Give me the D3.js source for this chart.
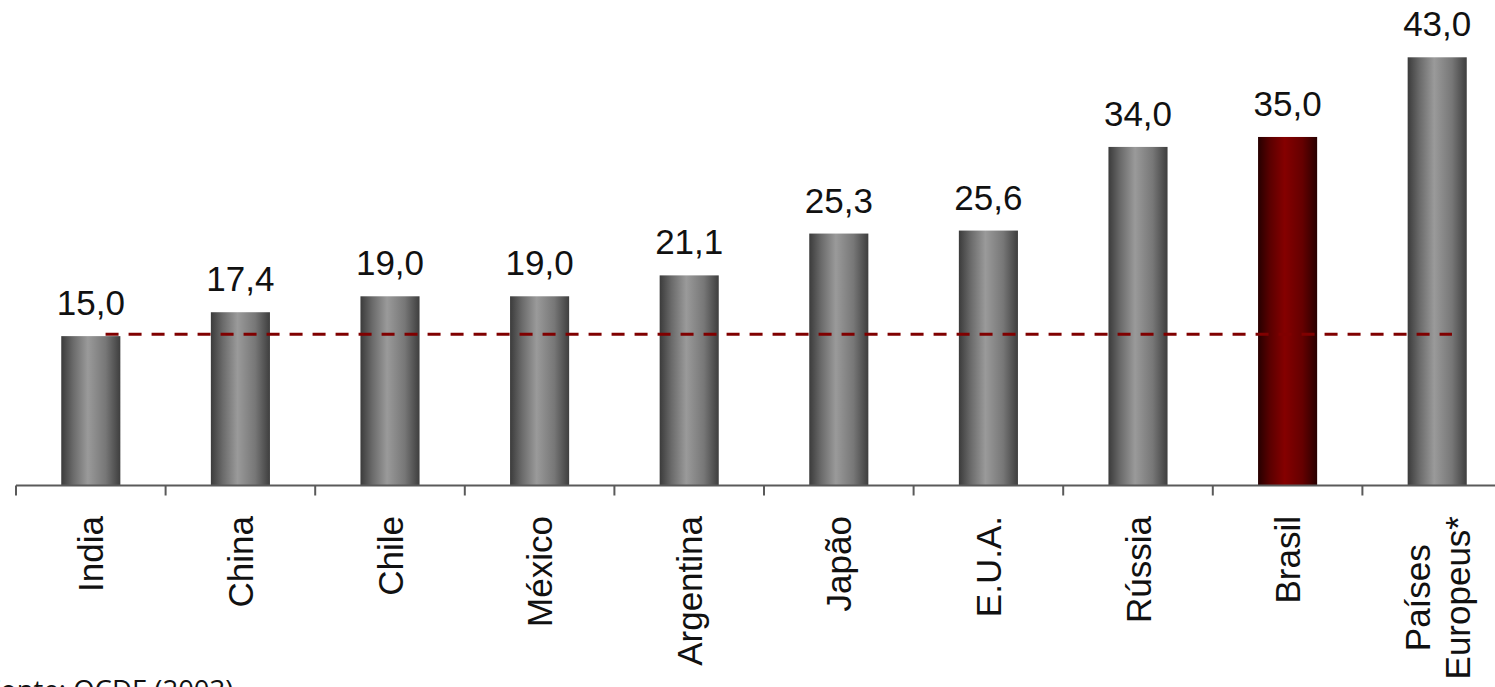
<!DOCTYPE html>
<html>
<head>
<meta charset="utf-8">
<script src="https://cdn.jsdelivr.net/npm/d3@7"></script>
<style>
  html, body { margin: 0; padding: 0; background: #fff; overflow: hidden; }
  svg { display: block; }
</style>
</head>
<body>
<svg id="chart" width="1495" height="687"></svg>
<script>
// ---- data ----
const categories = ["India", "China", "Chile", "México", "Argentina", "Japão", "E.U.A.", "Rússia", "Brasil", "Países\nEuropeus*"];
const values = [15.0, 17.4, 19.0, 19.0, 21.1, 25.3, 25.6, 34.0, 35.0, 43.0];
const valueLabels = ["15,0", "17,4", "19,0", "19,0", "21,1", "25,3", "25,6", "34,0", "35,0", "43,0"];
const highlight = ["Brasil"];
const referenceValue = 15.2;
const sourceNote = "Fonte: OCDE (2003)";

// ---- layout ----
const W = 1495, H = 687;
const axisY = 485.5;
const svg = d3.select("#chart");
const defs = svg.append("defs");

function grad(id, stops) {
  const g = defs.append("linearGradient").attr("id", id)
    .attr("x1", "0%").attr("x2", "100%").attr("y1", "0%").attr("y2", "0%");
  stops.forEach(s => g.append("stop").attr("offset", s[0]).attr("stop-color", s[1]));
}
grad("gGray", [["0%", "#3b3b3b"], ["20%", "#6a6a6a"], ["45%", "#9a9a9a"], ["75%", "#777777"], ["100%", "#3e3e3e"]]);
grad("gRed", [["0%", "#260000"], ["20%", "#5a0000"], ["45%", "#850000"], ["75%", "#650000"], ["100%", "#280000"]]);

const x = d3.scaleBand().domain(categories).range([16, 1512])
  .paddingInner(0.605).paddingOuter(0.3025);
const y = d3.scaleLinear().domain([0, 43]).range([axisY, 57.3]);

// bars
svg.append("g").selectAll("rect").data(categories).join("rect")
  .attr("x", d => x(d))
  .attr("width", x.bandwidth())
  .attr("y", (d, i) => y(values[i]))
  .attr("height", (d, i) => y(0) - y(values[i]))
  .attr("fill", d => highlight.includes(d) ? "url(#gRed)" : "url(#gGray)");

// value labels
svg.append("g").selectAll("text").data(categories).join("text")
  .attr("x", d => x(d) + x.bandwidth() / 2)
  .attr("y", (d, i) => y(values[i]) - 21)
  .attr("text-anchor", "middle")
  .attr("font-family", "'Liberation Sans', Arial, sans-serif")
  .attr("font-size", 35)
  .attr("fill", "#111")
  .text((d, i) => valueLabels[i]);

// reference dashed line
const first = categories[0], last = categories[categories.length - 1];
svg.append("line")
  .attr("x1", x(first) + x.bandwidth() * 0.75)
  .attr("x2", x(last) + x.bandwidth() * 0.75)
  .attr("y1", y(referenceValue)).attr("y2", y(referenceValue))
  .attr("stroke", "#800000").attr("stroke-width", 3)
  .attr("stroke-dasharray", "13,10");

// axis line & boundary ticks
const r0 = x.range()[0];
svg.append("line")
  .attr("x1", r0).attr("x2", x.range()[1])
  .attr("y1", axisY).attr("y2", axisY)
  .attr("stroke", "#5a5a5a").attr("stroke-width", 2);
svg.append("g").selectAll("line").data(d3.range(categories.length + 1)).join("line")
  .attr("x1", i => r0 + i * x.step()).attr("x2", i => r0 + i * x.step())
  .attr("y1", axisY).attr("y2", axisY + 10)
  .attr("stroke", "#5a5a5a").attr("stroke-width", 2);

// category labels (rotated)
const labelTop = 516;
const lg = svg.append("g")
  .attr("font-family", "'Liberation Sans', Arial, sans-serif")
  .attr("font-size", 35).attr("fill", "#111");
categories.forEach(c => {
  const cx = x(c) + x.bandwidth() / 2;
  const lines = c.split("\n");
  const lineGap = 40;
  const t = lg.append("text")
    .attr("transform", `translate(${cx},${labelTop}) rotate(-90)`)
    .attr("dominant-baseline", "central");
  if (lines.length === 1) {
    t.attr("text-anchor", "end").attr("x", 0).attr("y", 0).text(c);
  } else {
    const spans = lines.map((ln, k) => t.append("tspan")
      .attr("y", (k - (lines.length - 1) / 2) * lineGap)
      .attr("text-anchor", "middle").text(ln));
    const maxW = d3.max(spans, s => s.node().getComputedTextLength());
    spans.forEach(s => s.attr("x", -maxW / 2));
  }
});

// source note
svg.append("text")
  .attr("x", -14).attr("y", 700)
  .attr("font-family", "'Open Sans', 'Noto Sans', sans-serif")
  .attr("font-size", 27.5).attr("fill", "#111")
  .text(sourceNote);
</script>
</body>
</html>
